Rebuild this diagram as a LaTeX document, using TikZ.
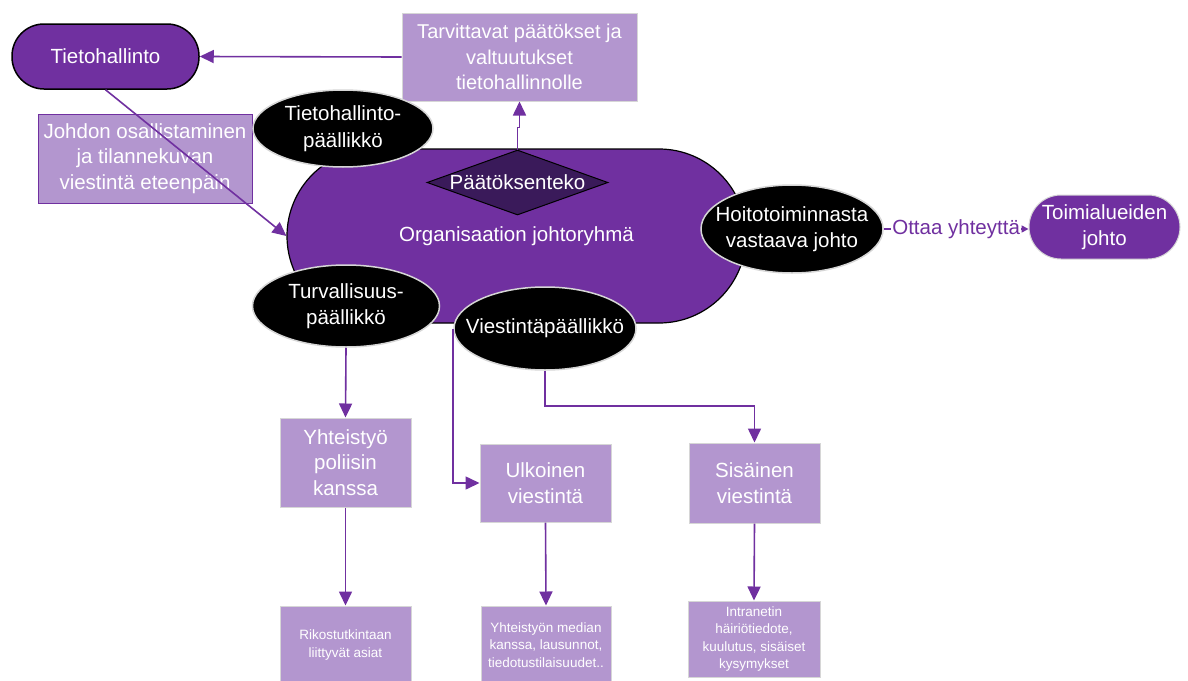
\documentclass[tikz,border=0pt]{standalone}
\usepackage{fontspec}
\setmainfont{Liberation Sans}
\usetikzlibrary{arrows.meta,shapes.geometric}
\definecolor{brand}{RGB}{112,48,160}
\definecolor{lilac}{RGB}{179,150,207}
\definecolor{plum}{RGB}{58,26,90}
\definecolor{rim}{RGB}{214,214,214}
\begin{document}
\begin{tikzpicture}[x=1pt,y=-1pt,
  bigtext/.style={font=\fontsize{20.5}{25.5}\selectfont, text=white, align=center, inner sep=0pt},
  ovaltext/.style={font=\fontsize{20.5}{26.5}\selectfont, text=white, align=center, inner sep=0pt},
  smalltext/.style={font=\fontsize{13.5}{17.5}\selectfont, text=white, align=center, inner sep=0pt},
  pill/.style={bigtext, fill=brand, rounded corners=32pt},
  oval/.style={ellipse, fill=black, draw=rim, line width=1.5pt, inner sep=0pt},
  lbox/.style={fill=lilac, draw=rim, line width=1pt, inner sep=0pt},
  conn/.style={draw=brand, line width=1.6pt, -{Triangle[length=14pt,width=13pt]}},
  plainline/.style={draw=brand, line width=1.6pt}
]
\clip (0,0) rectangle (1188,680);
\fill[white] (0,0) rectangle (1188,680);

% management group and its decision point
\node[bigtext, fill=brand, draw=black, line width=1.2pt, rounded corners=87pt,
      minimum width=459pt, minimum height=174pt] (org) at (516.5,236) {Organisaation johtoryhmä};
\node[diamond, fill=plum, draw=black, line width=1pt, inner sep=0pt,
      minimum width=181pt, minimum height=65pt] (dia) at (517.5,182.5) {};
\node[bigtext] (diatext) at (dia) {Päätöksenteko};

% top row
\node[pill, draw=black, line width=1.5pt, minimum width=187pt, minimum height=65pt] (tiet) at (105.5,56.5) {Tietohallinto};
\node[lbox, bigtext, font=\fontsize{20}{25.5}\selectfont, minimum width=235pt, minimum height=88pt] (tarv) at (519.5,57)
  {Tarvittavat päätökset ja\\valtuutukset\\tietohallinnolle};
\node[lbox, bigtext, draw=brand, minimum width=214pt, minimum height=89pt] (johd) at (145,158.5)
  {Johdon osallistaminen\\ja tilannekuvan\\viestintä eteenpäin};

% role ovals
\node[oval, minimum width=180pt, minimum height=77pt] (thp) at (343,128.5) {};
\node[ovaltext] (thptext) at (thp) {Tietohallinto-\\päällikkö};
\node[oval, minimum width=182pt, minimum height=88pt] (hoito) at (792,229) {};
\node[ovaltext] (hoitotext) at (hoito) {Hoitotoiminnasta\\vastaava johto};
\node[oval, minimum width=187pt, minimum height=82pt] (turv) at (346,306) {};
\node[ovaltext] (turvtext) at (turv) {Turvallisuus-\\päällikkö};
\node[oval, minimum width=182pt, minimum height=83pt] (vp) at (545,328.5) {};
\node[ovaltext] (vptext) at (vp) {Viestintäpäällikkö};

\node[pill, draw=rim, line width=1pt, minimum width=151pt, minimum height=64pt] (toim) at (1104.5,227) {Toimialueiden\\johto};

% tasks
\node[lbox, bigtext, minimum width=131pt, minimum height=89pt] (yht) at (345.5,462.5) {Yhteistyö\\poliisin\\kanssa};
\node[lbox, bigtext, minimum width=131pt, minimum height=78pt] (ulk) at (545.5,483) {Ulkoinen\\viestintä};
\node[lbox, bigtext, minimum width=131pt, minimum height=80pt] (sis) at (754.5,483) {Sisäinen\\viestintä};
\node[lbox, smalltext, minimum width=131pt, minimum height=78pt] (rik) at (345.5,645) {Rikostutkintaan\\liittyvät asiat};
\node[lbox, smalltext, minimum width=130pt, minimum height=78pt] (med) at (546,645) {Yhteistyön median\\kanssa, lausunnot,\\tiedotustilaisuudet..};
\node[lbox, smalltext, minimum width=132pt, minimum height=76pt] (intra) at (754,639) {Intranetin\\häiriötiedote,\\kuulutus, sisäiset\\kysymykset};

% connectors
\draw[conn] (tarv.west) -- (tiet.east);
\draw[conn] (tiet.south) -- (org.west);
\draw[conn] (dia.north) -- ++(0,-22) -| (tarv.south);
\draw[plainline, -{Triangle[length=7pt,width=7pt]}] (hoito.east) -- (hoito.east -| toim.west)
  node[midway, fill=white, inner sep=1pt, text=brand, font=\fontsize{20.5}{24}\selectfont] (otto) {Ottaa yhteyttä};
\draw[conn] (turv.south) -- (yht.north);
\draw[conn] (vp.west) |- (ulk.west);
\draw[conn] (vp.south) -- ++(0,35.5) -| (sis.north);
\draw[conn] (yht.south) -- (rik.north);
\draw[conn] (ulk.south) -- (med.north);
\draw[conn] (sis.south) -- (intra.north);
\end{tikzpicture}
\end{document}
